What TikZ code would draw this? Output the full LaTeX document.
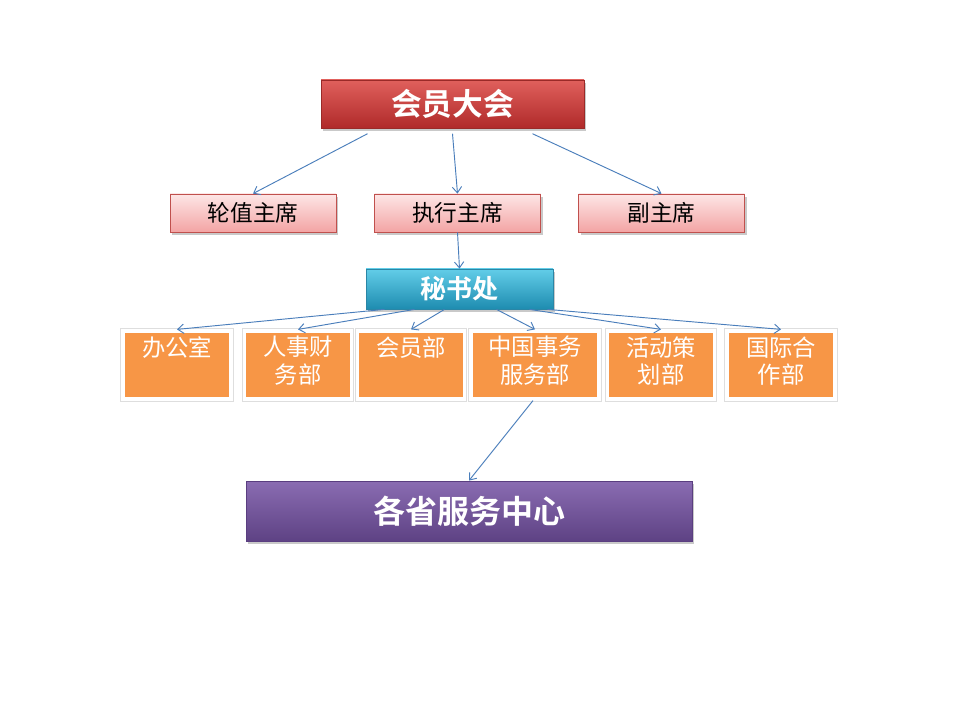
\documentclass[tikz,border=0pt]{standalone}
\usepackage{fontspec}
\setmainfont{Noto Sans CJK SC}
\newfontfamily\cjkb{Noto Sans CJK SC Bold}
\usetikzlibrary{arrows.meta,shadows,calc}
\definecolor{redT}{HTML}{E0605C}
\definecolor{redB}{HTML}{B02A2A}
\definecolor{redD}{HTML}{9A2A28}
\definecolor{pinkT}{HTML}{FDE6E6}
\definecolor{pinkB}{HTML}{F3A4A4}
\definecolor{pinkD}{HTML}{C0504D}
\definecolor{cyanT}{HTML}{62CDE8}
\definecolor{cyanB}{HTML}{1E8CB0}
\definecolor{cyanD}{HTML}{2A86A6}
\definecolor{orangeF}{HTML}{F79646}
\definecolor{purpT}{HTML}{8A6CB2}
\definecolor{purpB}{HTML}{5E4284}
\definecolor{purpD}{HTML}{5A3E80}
\definecolor{arrowC}{HTML}{4A7EBB}
\tikzset{
  x=0.75pt,y=-0.75pt,
  boxbase/.style={rectangle,inner sep=0pt,drop shadow={shadow xshift=1.5pt,shadow yshift=-2pt,opacity=0.35,fill=black!60}},
  redbox/.style={boxbase,top color=redT,bottom color=redB,draw=redD,line width=0.6pt,text=white,font=\cjkb\fontsize{23}{26}\selectfont},
  pinkbox/.style={boxbase,top color=pinkT,bottom color=pinkB,draw=pinkD,line width=0.6pt,text=black,font=\fontsize{17}{20}\selectfont,
     minimum width={166*0.75pt},minimum height={38*0.75pt}},
  cyanbox/.style={boxbase,top color=cyanT,bottom color=cyanB,draw=cyanD,line width=0.6pt,text=white,font=\cjkb\fontsize{19.5}{22}\selectfont},
  orangebox/.style={rectangle,inner sep=0pt,fill=orangeF,draw=white,line width=2.4pt,
     preaction={draw=black!13,line width=4.2pt},
     text=white,font=\fontsize{17.5}{20.5}\selectfont,align=center},
  purpbox/.style={boxbase,top color=purpT,bottom color=purpB,draw=purpD,line width=0.6pt,text=white,font=\cjkb\fontsize{24}{28}\selectfont},
  conn/.style={draw=arrowC,line width=0.7pt,-{Straight Barb[length=4.5pt,width=7pt]}}
}
\newcommand\obox[3]{\parbox[c][#2][t]{#1}{\centering\vspace{4pt}#3\par}}
\begin{document}
\begin{tikzpicture}
\useasboundingbox (0,0) rectangle (960,720);
\fill[white] (0,0) rectangle (960,720);
% top
\node[redbox,minimum width={263*0.75pt},minimum height={48*0.75pt}] (top) at (452.5,104) {会员大会};
% chairs
\node[pinkbox] (lz) at (253,213) {轮值主席};
\node[pinkbox] (zx) at (457.5,213) {执行主席};
\node[pinkbox] (fz) at (661.5,213) {副主席};
% secretariat
\node[cyanbox,minimum width={187*0.75pt},minimum height={40*0.75pt}] (ms) at (459.5,289) {秘书处};
% departments
\node[orangebox] (d1) at (177,365) {\obox{81pt}{51pt}{办公室}};
\node[orangebox] (d2) at (298,365) {\obox{80pt}{51pt}{人事财\\务部}};
\node[orangebox] (d3) at (411,365) {\obox{80pt}{51pt}{会员部}};
\node[orangebox] (d4) at (535,365) {\obox{96pt}{51pt}{中国事务\\服务部}};
\node[orangebox] (d5) at (661,365) {\obox{80pt}{51pt}{活动策\\划部}};
\node[orangebox] (d6) at (781,365) {\obox{81pt}{51pt}{国际合\\作部}};
% bottom
\node[purpbox,minimum width={446*0.75pt},minimum height={60*0.75pt}] (gs) at (469,511) {各省服务中心};
% connectors
\draw[conn] ([xshift={-85*0.75pt},yshift={-4pt}]top.south) -- (lz.north);
\draw[conn] ([yshift={-4pt}]top.south) -- (zx.north);
\draw[conn] ([xshift={80*0.75pt},yshift={-4pt}]top.south) -- (fz.north);
\draw[conn] (zx.south) -- (ms.north);
\draw[conn] ([xshift={-75*0.75pt}]ms.south) -- (d1.north);
\draw[conn] ([xshift={-45*0.75pt}]ms.south) -- (d2.north);
\draw[conn] ([xshift={-15*0.75pt}]ms.south) -- (d3.north);
\draw[conn] ([xshift={37*0.75pt}]ms.south) -- (d4.north);
\draw[conn] ([xshift={70*0.75pt}]ms.south) -- (d5.north);
\draw[conn] ([xshift={88*0.75pt}]ms.south) -- (d6.north);
\draw[conn] ([xshift={-2*0.75pt}]d4.south) -- (gs.north);
\end{tikzpicture}
\end{document}
